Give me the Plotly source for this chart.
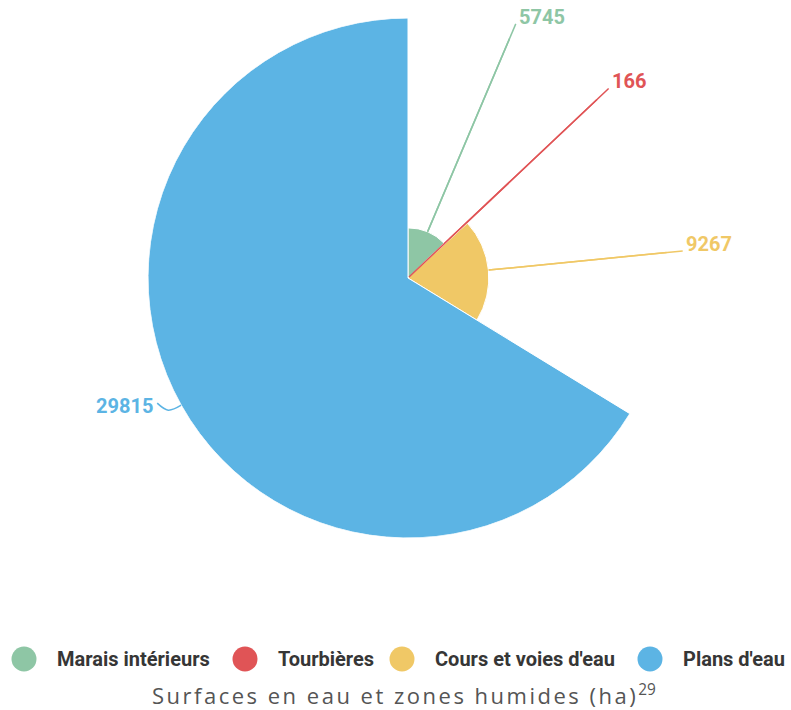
import math
import numpy as np
import plotly.graph_objects as go

# ---- data ----
categories = ["Marais intérieurs", "Tourbières", "Cours et voies d'eau", "Plans d'eau"]
values = [5745, 166, 9267, 29815]
colors = ["#8ec6a5", "#e05456", "#f0c866", "#5cb4e4"]
caption = "Surfaces en eau et zones humides (ha)"
footnote = "29"

# ---- layout geometry (pixels) ----
W, H = 791, 710
cx, cy, R = 408, 278, 260
total = sum(values)
spans = [v / total * 360 for v in values]
starts = np.cumsum([0] + spans[:-1])
mids = [float(s + w / 2) for s, w in zip(starts, spans)]
rmax = max(values)
ext = 16  # leader line extension beyond outer radius, px


def polar_to_px(r_px, theta):
    return cx + r_px * math.sin(math.radians(theta)), cy - r_px * math.cos(math.radians(theta))


fig = go.Figure()

annotations = []
label_font = dict(family="Roboto", size=20, weight="bold")
for v, m, c in zip(values, mids, colors):
    ax_, ay_ = polar_to_px(v * R / rmax, m)
    if m < 180:
        ex, ey = polar_to_px(R + ext, m)
        xs, ys = [ax_, ex], [ay_, ey]
        shape = "linear"
        annotations.append(dict(
            x=ex + 1, y=ey - 7, xref="x", yref="y", xanchor="left", yanchor="middle",
            text=str(v), showarrow=False, font=dict(color=c, **label_font),
        ))
        # inner part of the leader line, drawn on top of the wedges
        fig.add_trace(go.Scatterpolar(
            r=[v, rmax], theta=[m, m], mode="lines",
            line=dict(color=c, width=1.5), showlegend=False, hoverinfo="skip",
        ))
    else:
        xs, ys = [ax_, ax_ - 13, ax_ - 24], [ay_, ay_ + 5, ay_ - 2]
        shape = "spline"
        annotations.append(dict(
            x=ax_ - 26, y=ay_ + 0.5, xref="x", yref="y", xanchor="right", yanchor="middle",
            text=str(v), showarrow=False, font=dict(color=c, **label_font),
        ))
    # full leader line on the pixel overlay (beneath the polar layer)
    fig.add_trace(go.Scatter(
        x=xs, y=ys, mode="lines", line=dict(color=c, width=1.5, shape=shape),
        showlegend=False, hoverinfo="skip", xaxis="x", yaxis="y",
    ))

fig.add_trace(go.Barpolar(
    r=values, theta=mids, width=spans,
    marker=dict(color=colors, line=dict(color="white", width=1)),
    showlegend=False, hoverinfo="skip",
))
# keep leader segments above wedges within polar layer
fig.data = tuple([fig.data[-1]] + list(fig.data[:-1]))

# ---- manual legend on a pixel overlay ----
leg_x = [24, 245, 402, 650]
leg_y = 659
fig.add_trace(go.Scatter(
    x=leg_x, y=[leg_y] * 4, mode="markers",
    marker=dict(size=25, color=colors, line=dict(width=0)),
    showlegend=False, hoverinfo="skip", xaxis="x", yaxis="y",
))
for x, name in zip(leg_x, categories):
    annotations.append(dict(
        x=x + 31, y=leg_y, xref="x", yref="y", xanchor="left", yanchor="middle",
        text=name, showarrow=False,
        font=dict(family="Roboto", size=20, color="#363636", weight="bold"),
    ))
annotations.append(dict(
    x=404, y=694, xref="x", yref="y", xanchor="center", yanchor="middle",
    text=f'<span style="letter-spacing:2.5px">{caption}</span><sup>{footnote}</sup>',
    showarrow=False,
    font=dict(family="Open Sans", size=22, color="#555555"),
))

fig.update_layout(
    width=W, height=H,
    margin=dict(l=0, r=0, t=0, b=0),
    paper_bgcolor="white", plot_bgcolor="rgba(0,0,0,0)",
    showlegend=False,
    polar=dict(
        domain=dict(x=[(cx - R) / W, (cx + R) / W], y=[(H - cy - R) / H, (H - cy + R) / H]),
        bgcolor="rgba(0,0,0,0)",
        angularaxis=dict(direction="clockwise", rotation=90, visible=False,
                         showgrid=False, showline=False, showticklabels=False, ticks=""),
        radialaxis=dict(range=[0, rmax], visible=False, showgrid=False,
                        showline=False, showticklabels=False, ticks=""),
    ),
    xaxis=dict(range=[0, W], domain=[0, 1], visible=False, fixedrange=True),
    yaxis=dict(range=[H, 0], domain=[0, 1], visible=False, fixedrange=True),
    annotations=annotations,
)

fig.write_html(
    "out.html",
    config={"displayModeBar": False},
    post_script="document.body.style.margin='0px';document.body.style.overflow='hidden';",
)
